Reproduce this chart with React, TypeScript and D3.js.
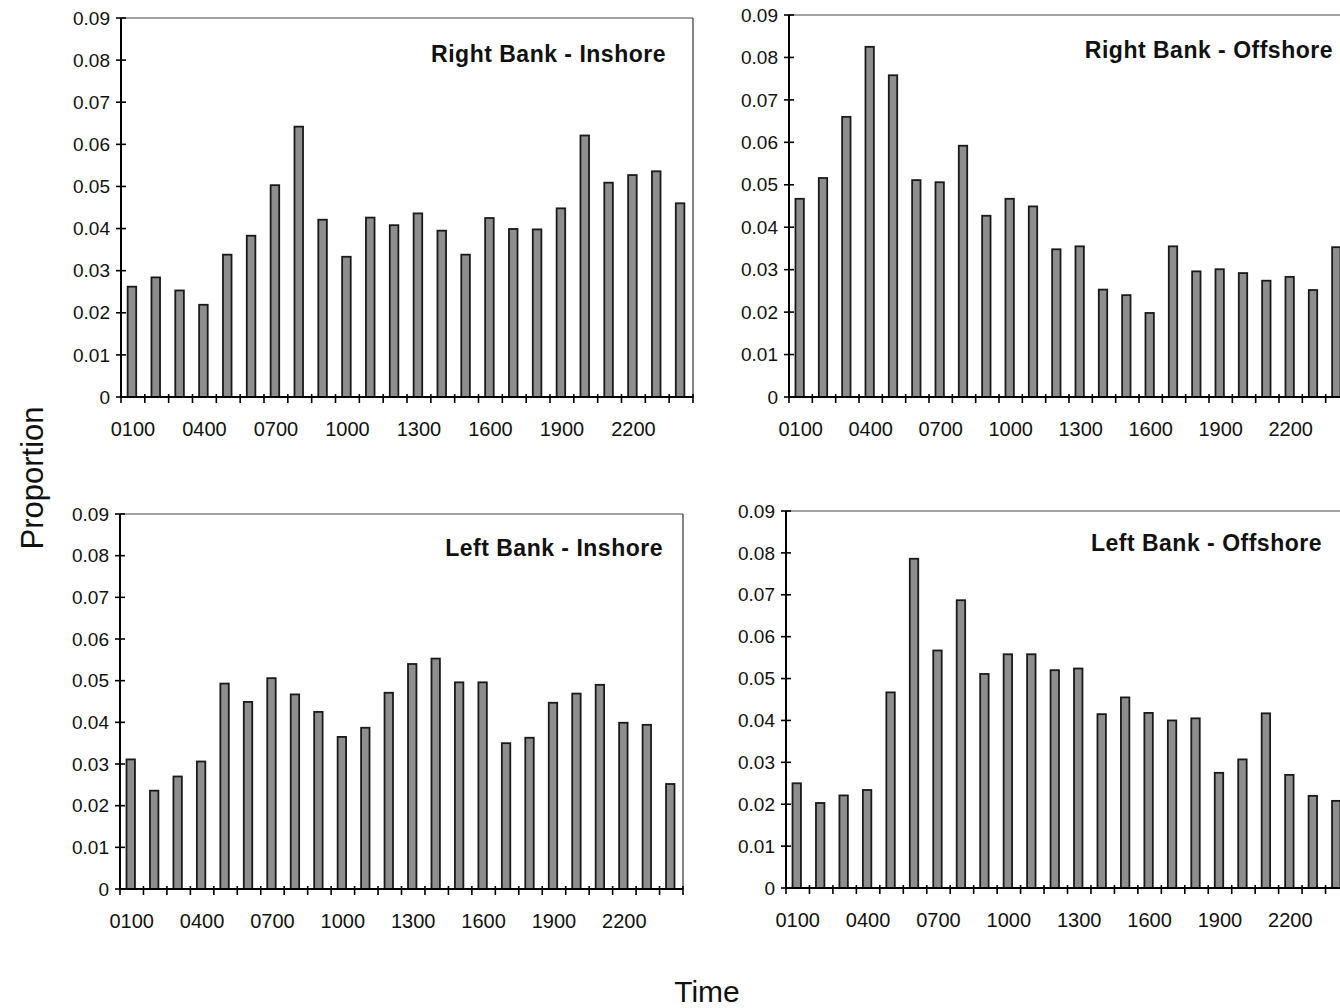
import React, { useEffect, useRef } from 'react';
import * as d3 from 'd3';

// hour categories (24 bars per panel)
const hours = ['0100', '0200', '0300', '0400', '0500', '0600', '0700', '0800', '0900', '1000', '1100', '1200',
  '1300', '1400', '1500', '1600', '1700', '1800', '1900', '2000', '2100', '2200', '2300', '2400'];
const hourLabels = ['0100', '0400', '0700', '1000', '1300', '1600', '1900', '2200'];
const yTicks = [0, 0.01, 0.02, 0.03, 0.04, 0.05, 0.06, 0.07, 0.08, 0.09];

const rightInshore = [0.0262, 0.0284, 0.0253, 0.0219, 0.0338, 0.0383, 0.0503, 0.0642, 0.0421, 0.0333, 0.0426, 0.0408,
  0.0436, 0.0395, 0.0338, 0.0425, 0.0399, 0.0398, 0.0448, 0.0621, 0.0509, 0.0527, 0.0536, 0.0460];
const rightOffshore = [0.0467, 0.0516, 0.0660, 0.0825, 0.0758, 0.0511, 0.0506, 0.0592, 0.0427, 0.0467, 0.0449, 0.0348,
  0.0355, 0.0253, 0.0240, 0.0198, 0.0355, 0.0296, 0.0301, 0.0292, 0.0274, 0.0283, 0.0252, 0.0353];
const leftInshore = [0.0311, 0.0236, 0.0270, 0.0306, 0.0493, 0.0449, 0.0506, 0.0467, 0.0425, 0.0365, 0.0387, 0.0471,
  0.0540, 0.0553, 0.0496, 0.0496, 0.0350, 0.0363, 0.0447, 0.0469, 0.0490, 0.0399, 0.0394, 0.0252];
const leftOffshore = [0.0250, 0.0203, 0.0221, 0.0234, 0.0467, 0.0786, 0.0567, 0.0687, 0.0511, 0.0558, 0.0558, 0.0520,
  0.0524, 0.0415, 0.0455, 0.0418, 0.0400, 0.0405, 0.0275, 0.0307, 0.0417, 0.0270, 0.0220, 0.0208];

const panels = [
  { title: 'Right Bank - Inshore', values: rightInshore, left: 121, top: 18, bottom: 397, width: 572, titleX: 666, titleY: 54 },
  { title: 'Right Bank - Offshore', values: rightOffshore, left: 789, top: 15, bottom: 397, width: 560, titleX: 1333, titleY: 50 },
  { title: 'Left Bank - Inshore', values: leftInshore, left: 120, top: 514, bottom: 889, width: 563, titleX: 663, titleY: 548 },
  { title: 'Left Bank - Offshore', values: leftOffshore, left: 786, top: 511, bottom: 888, width: 563, titleX: 1322, titleY: 543 },
];

const font = '"Liberation Sans", Arial, sans-serif';

export default function App() {
  const svgRef = useRef<SVGSVGElement>(null);

  useEffect(() => {
    const svg = d3.select(svgRef.current);
    svg.selectAll('*').remove();

    panels.forEach((p) => {
      const g = svg.append('g');
      const x = d3.scaleBand<string>().domain(hours).range([p.left, p.left + p.width]).padding(0);
      const y = d3.scaleLinear().domain([0, 0.09]).range([p.bottom, p.top]);
      const bw = x.bandwidth() * 0.36;

      // plot frame (top + right)
      g.append('line').attr('x1', p.left).attr('x2', p.left + p.width).attr('y1', p.top).attr('y2', p.top)
        .attr('stroke', '#444').attr('stroke-width', 1.2);
      g.append('line').attr('x1', p.left + p.width).attr('x2', p.left + p.width).attr('y1', p.top).attr('y2', p.bottom)
        .attr('stroke', '#333').attr('stroke-width', 1.2);

      // bars
      g.selectAll('rect.bar').data(p.values).join('rect')
        .attr('class', 'bar')
        .attr('x', (_, i) => (x(hours[i]) as number) + x.bandwidth() / 2 - bw / 2 - 1)
        .attr('y', (d) => y(d))
        .attr('width', bw)
        .attr('height', (d) => p.bottom - y(d))
        .attr('fill', '#8e8e8e')
        .attr('stroke', '#1a1a1a')
        .attr('stroke-width', 1.8);

      // y axis
      g.append('line').attr('x1', p.left).attr('x2', p.left).attr('y1', p.top).attr('y2', p.bottom)
        .attr('stroke', '#000').attr('stroke-width', 2);
      yTicks.forEach((t) => {
        g.append('line').attr('x1', p.left - 5).attr('x2', p.left + 5).attr('y1', y(t)).attr('y2', y(t))
          .attr('stroke', '#000').attr('stroke-width', 1.6);
        g.append('text').attr('x', p.left - 11).attr('y', y(t)).attr('dy', '0.35em')
          .attr('text-anchor', 'end').attr('font-family', font).attr('font-size', 19).attr('fill', '#111')
          .text(t === 0 ? '0' : d3.format('.2f')(t));
      });

      // x axis
      g.append('line').attr('x1', p.left).attr('x2', p.left + p.width).attr('y1', p.bottom).attr('y2', p.bottom)
        .attr('stroke', '#000').attr('stroke-width', 2);
      hours.concat(['end']).forEach((h, i) => {
        const tx = i < hours.length ? (x(h) as number) : p.left + p.width;
        g.append('line').attr('x1', tx).attr('x2', tx).attr('y1', p.bottom - 3).attr('y2', p.bottom + 6)
          .attr('stroke', '#000').attr('stroke-width', 1.6);
      });
      hourLabels.forEach((h) => {
        g.append('text').attr('x', (x(h) as number) + x.bandwidth() / 2).attr('y', p.bottom + 39)
          .attr('text-anchor', 'middle').attr('font-family', font).attr('font-size', 20).attr('fill', '#111')
          .text(h);
      });

      // title
      g.append('text').attr('x', p.titleX).attr('y', p.titleY).attr('dy', '0.35em')
        .attr('text-anchor', 'end').attr('font-family', font).attr('font-size', 23).attr('font-weight', 'bold')
        .attr('letter-spacing', 0.5).attr('fill', '#111').text(p.title);
    });

    svg.append('text').attr('transform', 'translate(43,478) rotate(-90)')
      .attr('text-anchor', 'middle').attr('font-family', font).attr('font-size', 31).attr('fill', '#111')
      .text('Proportion');
    svg.append('text').attr('x', 707).attr('y', 1002)
      .attr('text-anchor', 'middle').attr('font-family', font).attr('font-size', 30).attr('fill', '#111')
      .text('Time');
  }, []);

  return (
    <svg ref={svgRef} width={1340} height={1008}
      style={{ position: 'absolute', left: 0, top: 0, background: '#fff' }} />
  );
}
